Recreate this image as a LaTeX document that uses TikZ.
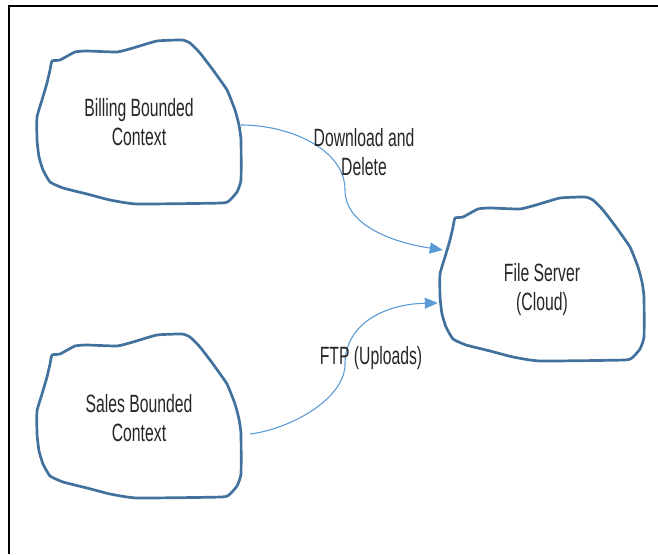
\documentclass[tikz,border=0pt]{standalone}
\usepackage{fontspec}
\setmainfont{Liberation Sans}[FakeStretch=0.63]
\usepackage{tikz}
\usetikzlibrary{arrows.meta}
\definecolor{blobblue}{HTML}{41719C}
\definecolor{linkblue}{HTML}{5B9BD5}
\definecolor{textgray}{HTML}{262626}
\tikzset{every node/.append style={font=\fontsize{25}{29}\selectfont, text=textgray}}
\tikzset{
  ctxtext/.style={align=center, inner sep=0pt, minimum width=204pt},
  link/.style={linkblue, line width=1.1pt, -{Triangle[length=13pt,width=11pt]}},
  blob/.pic={
    \draw[blobblue, line width=2.7pt, line join=round] plot[smooth cycle, tension=0.25] coordinates {
      (-87,61) (-79,62) (-64,70) (-52,71) (-22,70) (-6,74) (18,81)
      (43,82) (51,79) (61,69) (74,52) (88,32) (96,12) (100,-3) (102,-18) (102,-58)
      (98,-70) (91,-78) (83,-81) (-2,-82) (-29,-78) (-52,-72) (-76,-66) (-89,-60)
      (-96,-48) (-100,-35) (-102,-18) (-102,5) (-97,22) (-92,39) (-89,52)};
  }
}

\begin{document}
\begin{tikzpicture}[x=1pt, y=1pt, >=stealth]
    \useasboundingbox (0,0) rectangle (658,554);
    \draw[line width=2.2pt] (9,0) |- (658,548);

    % contexts
    \node[ctxtext] (billing) at (139,432) {Billing Bounded\\Context};
    \pic at (billing.center) {blob};
    \node[ctxtext] (sales) at (139,136) {Sales Bounded\\Context};
    \pic at ([yshift=2pt]sales.center) {blob};
    \node[ctxtext] (server) at (542,264) {File Server\\(Cloud)};
    \pic at ([yshift=11pt]server.center) {blob};

    % links
    \draw[link] ([yshift=-3pt]billing.east) .. controls +(48,0) and +(0,41) .. (345,364)
        .. controls +(0,-34) and +(-53,8) .. ([xshift=3pt,yshift=40pt]server.west);
    \node[align=center] (dellabel) at (364,402) {Download and\\Delete};
    \draw[link] ([xshift=9pt,yshift=-16pt]sales.east) .. controls +(40,5) and +(0,-35) .. (345,190)
        .. controls +(0,40) and +(-53,-1) .. ([xshift=-2pt,yshift=-13pt]server.west);
    \node (ftplabel) at (371,196) {FTP (Uploads)};
\end{tikzpicture}
\end{document}
